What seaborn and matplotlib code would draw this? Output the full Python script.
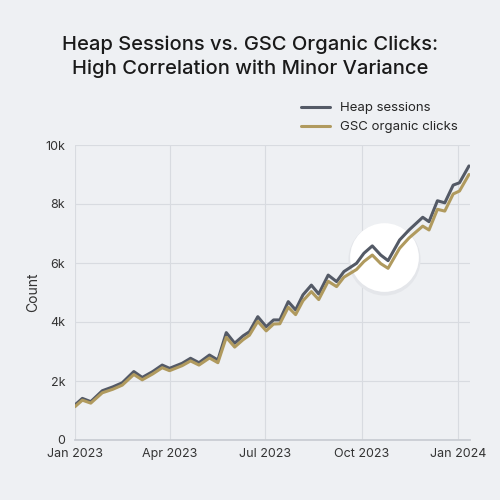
import pandas as pd
import seaborn as sns
import matplotlib.pyplot as plt
import matplotlib.dates as mdates
from matplotlib.ticker import FuncFormatter

sns.set_theme(style="whitegrid")
plt.rcParams['font.family'] = ['Inter', 'DejaVu Sans']

days = [0, 7, 15, 26, 36, 45, 56, 64, 74, 83, 90, 102, 110, 118, 128, 136, 144, 152, 160, 166,
        174, 182, 189, 195, 203, 210, 217, 225, 232, 241, 249, 256, 268, 275, 283, 291, 298, 309,
        318, 331, 337, 345, 352, 360, 366, 375]
heap = [1.19, 1.41, 1.30, 1.67, 1.80, 1.94, 2.32, 2.12, 2.32, 2.54, 2.43, 2.60, 2.77, 2.62, 2.88, 2.71,
        3.64, 3.28, 3.53, 3.67, 4.18, 3.84, 4.07, 4.07, 4.69, 4.41, 4.92, 5.25, 4.95, 5.59, 5.37, 5.71,
        5.99, 6.33, 6.58, 6.27, 6.08, 6.78, 7.12, 7.55, 7.40, 8.11, 8.04, 8.64, 8.72, 9.29]
gsc = [1.13, 1.35, 1.25, 1.60, 1.72, 1.86, 2.22, 2.04, 2.24, 2.45, 2.35, 2.52, 2.68, 2.54, 2.78, 2.62,
       3.48, 3.15, 3.40, 3.55, 4.02, 3.70, 3.93, 3.94, 4.50, 4.25, 4.72, 5.03, 4.76, 5.38, 5.20, 5.52,
       5.78, 6.05, 6.27, 5.98, 5.82, 6.50, 6.85, 7.25, 7.12, 7.82, 7.76, 8.34, 8.44, 9.00]

start = pd.Timestamp("2023-01-01")
dates = [start + pd.Timedelta(days=d) for d in days]
df = pd.DataFrame({"date": dates * 2,
                   "count": [v * 1000 for v in heap + gsc],
                   "series": ["Heap sessions"] * len(days) + ["GSC organic clicks"] * len(days)})

bg = "#eef0f3"
fig, ax = plt.subplots(figsize=(5, 5), dpi=100)
fig.patch.set_facecolor(bg)
ax.set_facecolor(bg)

# highlight circle
hl_date = pd.Timestamp("2023-10-22")
ax.scatter([hl_date], [6150], s=2700, color="#e4e6ea", zorder=1, linewidths=0)
ax.scatter([hl_date], [6200], s=2450, color="white", zorder=1.5, linewidths=0)

sns.lineplot(data=df, x="date", y="count", hue="series",
             palette={"Heap sessions": "#545a66", "GSC organic clicks": "#b09a5e"},
             linewidth=2.2, ax=ax, zorder=3)

ax.set_xlim(pd.Timestamp("2023-01-01"), pd.Timestamp("2024-01-12"))
ax.set_ylim(0, 10000)
ax.set_yticks(range(0, 10001, 2000))
ax.yaxis.set_major_formatter(FuncFormatter(lambda v, p: "0" if v == 0 else f"{int(v/1000)}k"))
ax.set_xticks([pd.Timestamp(s) for s in ["2023-01-01", "2023-04-01", "2023-07-01", "2023-10-01", "2024-01-01"]])
ax.xaxis.set_major_formatter(mdates.DateFormatter("%b %Y"))
ax.set_xlabel("")
ax.set_ylabel("Count", fontsize=10, color="#333333")
ax.tick_params(labelsize=9, colors="#333333", length=0)
ax.tick_params(axis="y", pad=7)
ax.tick_params(axis="x", pad=6)
ax.grid(color="#d8dbe0", linewidth=0.8)
for s in ax.spines.values():
    s.set_visible(False)
ax.spines["bottom"].set_visible(True)
ax.spines["bottom"].set_color("#c8ccd2")

ax.legend(title=None, frameon=False, loc="lower right", bbox_to_anchor=(1.0, 1.0), fontsize=9.5,
          handlelength=2.2)
fig.suptitle("Heap Sessions vs. GSC Organic Clicks:\nHigh Correlation with Minor Variance",
             fontsize=14.5, fontweight="medium", color="#1a1a1a", y=0.93, linespacing=1.4)
fig.subplots_adjust(left=0.15, right=0.94, top=0.71, bottom=0.12)
fig.savefig("out.png", dpi=100, facecolor=bg)
